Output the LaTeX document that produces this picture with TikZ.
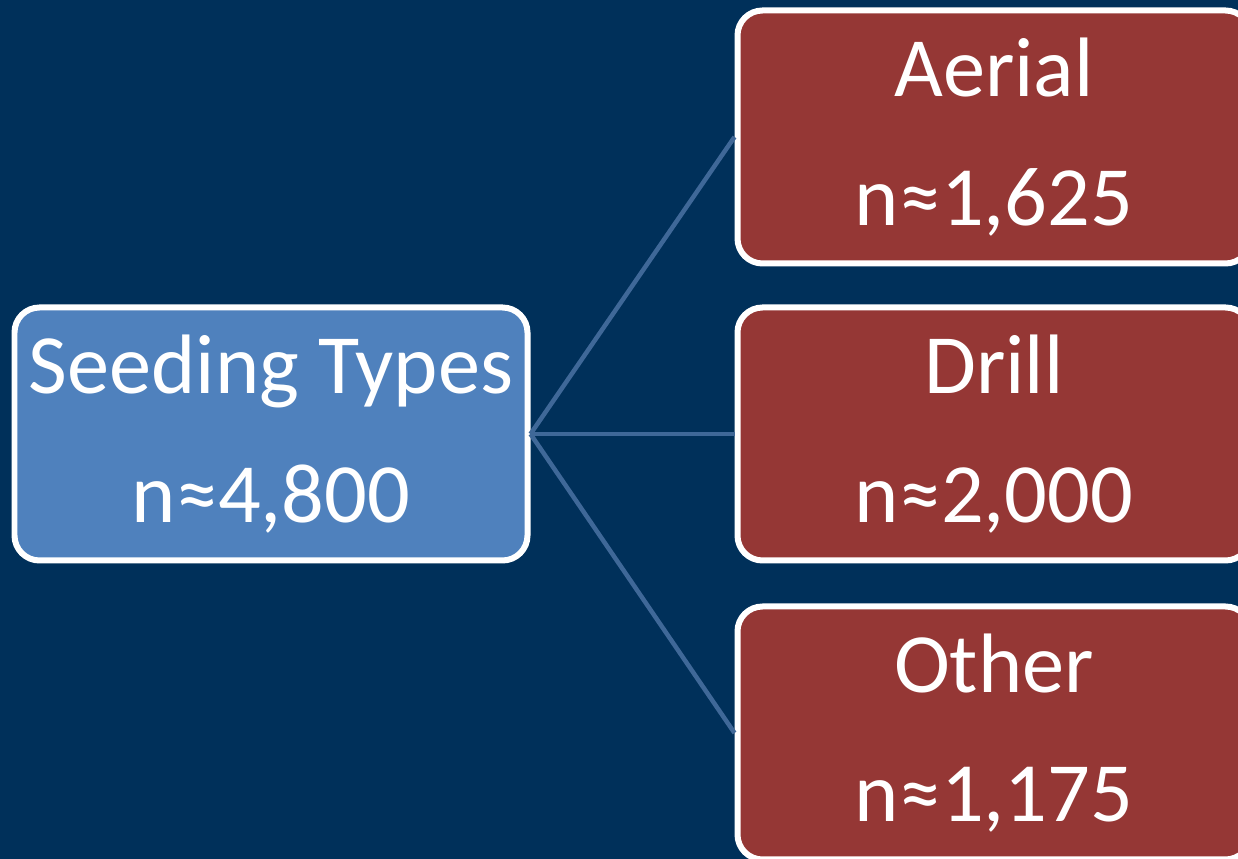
\documentclass[tikz,border=0pt]{standalone}
\usepackage{fontspec}
\setmainfont{Carlito}
\usepackage{tikz}
\usepackage{xcolor}
\usetikzlibrary{positioning}
\definecolor{slide-bg}{HTML}{00305A}
\definecolor{root-blue}{HTML}{4F81BD}
\definecolor{leaf-red}{HTML}{953735}
\definecolor{link-blue}{HTML}{3F6898}
\tikzset{
    root-box/.style = {draw=white, fill=root-blue, line width=0.12cm, rectangle, rounded corners=0.5cm, minimum width=10.26cm, minimum height=5.06cm, align=center, text=white, font=\fontsize{48}{73}\selectfont},
    leaf-box/.style = {root-box, fill=leaf-red, minimum width=10.26cm},
    link-line/.style = {draw=link-blue, line width=0.09cm},
}
\begin{document}
\begin{tikzpicture}
\fill[slide-bg] (0,0) rectangle (24.76,17.18);
\useasboundingbox (0,0) rectangle (24.76,17.18);
\node [root-box] (seeding) at (5.42,8.5) {Seeding Types\\n≈4,800};
\node [leaf-box, right=4.08cm of seeding] (drill) {Drill\\n≈2,000};
\node [leaf-box, above=0.76cm of drill] (aerial) {Aerial\\n≈1,625};
\node [leaf-box, below=0.80cm of drill] (other) {Other\\n≈1,175};
% connectors
\draw [link-line] (seeding.east) -- (aerial.west);
\draw [link-line] (seeding.east) -- (drill.west);
\draw [link-line] (seeding.east) -- (other.west);
\end{tikzpicture}
\end{document}
